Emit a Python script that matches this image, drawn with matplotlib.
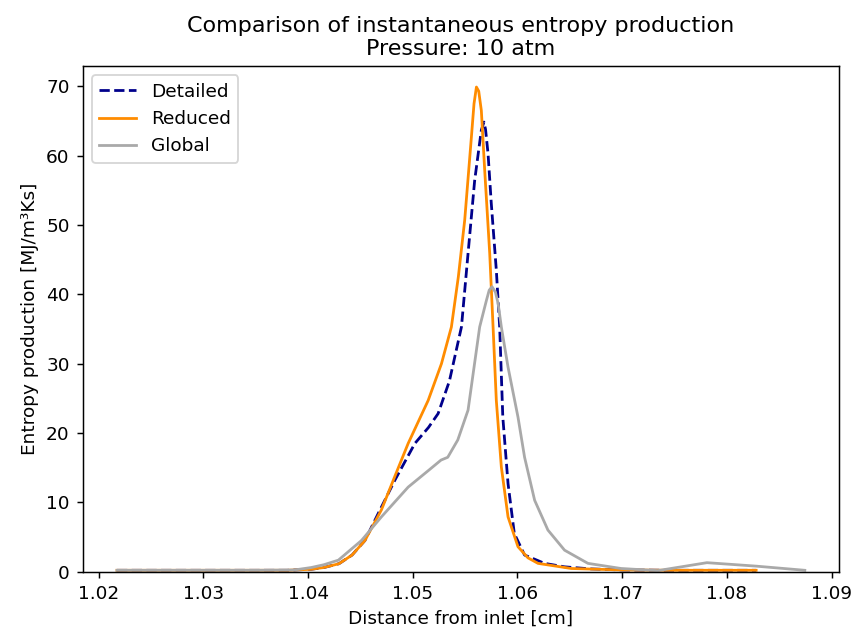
import numpy as np
import matplotlib.pyplot as plt

# distance from inlet [cm] and entropy production [MJ/m3Ks]
x_detailed = [1.02175, 1.025, 1.03, 1.035, 1.038, 1.0403, 1.0415, 1.04295, 1.0442, 1.04543,
              1.0467, 1.04829, 1.0502, 1.0515, 1.05242, 1.0535, 1.05465, 1.05528, 1.05591,
              1.05655, 1.0568, 1.05695, 1.05719, 1.0575, 1.05798, 1.0583, 1.0586, 1.0591,
              1.0597, 1.06068, 1.06259, 1.0645, 1.067, 1.07, 1.075, 1.08, 1.0828]
y_detailed = [0.2, 0.2, 0.2, 0.2, 0.2, 0.35, 0.6, 1.15, 2.4, 4.5,
              8.4, 13.2, 18.5, 20.8, 22.8, 27.5, 35.3, 45.9, 56.4,
              63.7, 64.85, 63.8, 60.3, 53.1, 43.5, 35.3, 22.3, 12.7,
              5.5, 2.4, 1.2, 0.7, 0.4, 0.25, 0.2, 0.2, 0.2]

x_reduced = [1.02175, 1.025, 1.03, 1.035, 1.038, 1.0403, 1.0415, 1.04295, 1.0442, 1.04543,
             1.047, 1.0483, 1.04956, 1.05147, 1.05274, 1.05369, 1.05435, 1.05496, 1.0556,
             1.05585, 1.05608, 1.0563, 1.05655, 1.05687, 1.05735, 1.05767, 1.05798,
             1.05846, 1.0591, 1.06005, 1.061, 1.06196, 1.06514, 1.07, 1.075, 1.08, 1.0828]
y_reduced = [0.2, 0.2, 0.2, 0.2, 0.2, 0.35, 0.6, 1.15, 2.4, 4.5,
             8.9, 13.8, 18.5, 24.7, 30.0, 35.3, 42.5, 50.7, 62.7,
             67.5, 69.9, 69.3, 66.5, 57.9, 45.9, 35.3, 24.7,
             15.1, 7.9, 3.6, 2.0, 1.2, 0.46, 0.25, 0.2, 0.2, 0.2]

x_global = [1.02175, 1.025, 1.03, 1.035, 1.0387, 1.0403, 1.0415, 1.04289, 1.0451, 1.047,
            1.04956, 1.0515, 1.0527, 1.05334, 1.0543, 1.05528, 1.05639, 1.05703, 1.0573,
            1.05757, 1.0579, 1.05815, 1.05846, 1.0591, 1.06005, 1.06068, 1.06164, 1.06291,
            1.0645, 1.06673, 1.0699, 1.0734, 1.0781, 1.0828, 1.08745]
y_global = [0.2, 0.2, 0.2, 0.2, 0.25, 0.6, 1.0, 1.66, 4.5, 7.9,
            12.2, 14.6, 16.1, 16.5, 19.0, 23.3, 35.3, 39.1, 40.6,
            41.1, 40.3, 38.7, 35.3, 29.5, 22.3, 16.5, 10.3, 6.0,
            3.1, 1.2, 0.46, 0.15, 1.3, 0.8, 0.2]

fig, ax = plt.subplots(figsize=(6.4, 4.74), dpi=133.125)
fig.subplots_adjust(left=0.097, right=0.985, top=0.895, bottom=0.094)

ax.plot(x_detailed, y_detailed, '--', color='darkblue', label='Detailed')
ax.plot(x_reduced, y_reduced, color='darkorange', label='Reduced')
ax.plot(x_global, y_global, color='darkgray', label='Global')

ax.set_ylim(0, 72.9)
ax.set_xlabel('Distance from inlet [cm]')
ax.set_ylabel('Entropy production [MJ/m³Ks]')
ax.set_title('Comparison of instantaneous entropy production\nPressure: 10 atm')
ax.legend(loc='upper left')

fig.savefig('out.png', dpi=133.125)
